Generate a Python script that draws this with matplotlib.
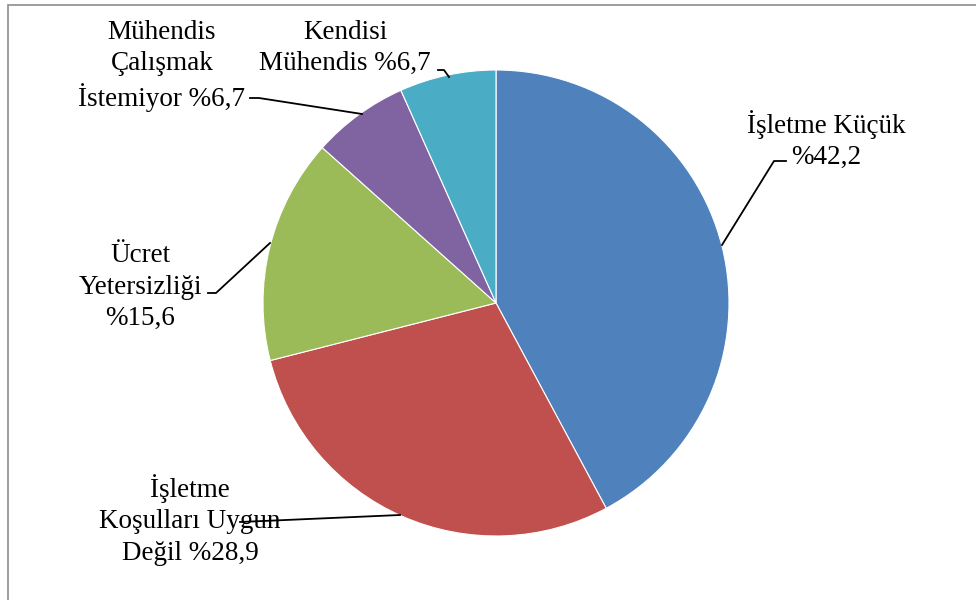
import matplotlib.pyplot as plt
from matplotlib.patches import Rectangle

plt.rcParams['font.family'] = ['Liberation Serif', 'DejaVu Serif']

labels = ['İşletme Küçük\n%42,2',
          'İşletme\nKoşulları Uygun\nDeğil %28,9',
          'Ücret\nYetersizliği\n%15,6',
          'Mühendis\nÇalışmak\nİstemiyor %6,7',
          'Kendisi\nMühendis %6,7']
values = [42.2, 28.9, 15.6, 6.7, 6.7]
colors = ['#4F81BD', '#C0504D', '#9BBB59', '#8064A2', '#4BACC6']

# label centres and leader line points, in pixel coords (y measured from top)
label_pos = [(826, 140), (190, 520), (140, 287), (162, 66), (345, 48)]
leaders = [
    [(786, 161), (774, 161), (722, 245)],
    [(240, 522), (400, 515)],
    [(208, 293), (216, 293), (270, 243)],
    [(250, 98), (259, 98), (362, 114)],
    [(438, 70), (444, 70), (449, 77)],
]

W, H = 976, 600
fig = plt.figure(figsize=(W / 100, H / 100), dpi=100)
ax = fig.add_axes([0, 0, 1, 1])

ax.pie(values, colors=colors, startangle=90, counterclock=False,
       center=(496, H - 303), radius=233, frame=True,
       wedgeprops=dict(edgecolor='white', linewidth=0.8))
ax.set_xlim(0, W)
ax.set_ylim(0, H)
ax.set_aspect('auto')
ax.axis('off')

for lab, (x, y) in zip(labels, label_pos):
    ax.text(x, H - y, lab, ha='center', va='center', fontsize=19.5,
            linespacing=1.33, color='black')

for pts in leaders:
    ax.plot([p[0] for p in pts], [H - p[1] for p in pts], color='black', lw=1.3)

ax.add_patch(Rectangle((8, -10), W + 10, H - 5 + 10, fill=False,
                       edgecolor='#8c8c8c', lw=1.2))

fig.savefig('out.png', dpi=100)
